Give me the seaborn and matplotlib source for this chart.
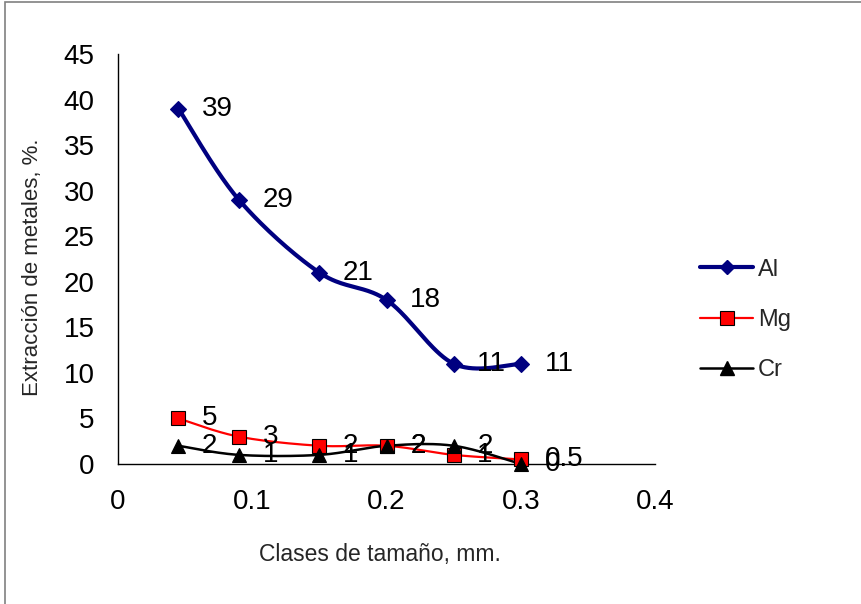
import numpy as np
import pandas as pd
import matplotlib
matplotlib.use("Agg")
import matplotlib.pyplot as plt
from matplotlib.lines import Line2D
from matplotlib.patches import Rectangle
import seaborn as sns

# Size classes (mm) and metal extraction (%)
size_mm = [0.045, 0.09, 0.15, 0.2, 0.25, 0.3]
al = [39, 29, 21, 18, 11, 11]
mg = [5, 3, 2, 2, 1, 0.5]
cr = [2, 1, 1, 2, 2, 0]
al_labels = ["39", "29", "21", "18", "11", "11"]
mg_labels = ["5", "3", "2", "2", "1", "0.5"]
cr_labels = ["2", "1", "1", "2", "2", "0"]

x_ticks = [0, 0.1, 0.2, 0.3, 0.4]
x_tick_labels = ["0", "0.1", "0.2", "0.3", "0.4"]
y_ticks = [0, 5, 10, 15, 20, 25, 30, 35, 40, 45]

sns.set_theme(style="white")
plt.rcParams["font.family"] = ["Liberation Sans", "DejaVu Sans"]

fig = plt.figure(figsize=(8.62, 6.04), dpi=100)
ax = fig.add_axes([0.1369, 0.2318, 0.6232, 0.6788])
ax.set_xlim(0, 0.4)
ax.set_ylim(0, 45)

# outer chart border (grey)
fig.patches.append(Rectangle((5 / 862, -0.05), 1.2, 1.05 - 1.5 / 604,
                             transform=fig.transFigure, fill=False,
                             edgecolor="#808080", linewidth=1.2, zorder=0))


def smooth_curve(xs, ys, n=40):
    """Bezier smoothing through the points in display space (Catmull-Rom style)."""
    pts = ax.transData.transform(np.column_stack([xs, ys]))
    P = np.vstack([pts[0], pts, pts[-1]])
    out = []
    t = np.linspace(0, 1, n)[:, None]
    for i in range(1, len(P) - 2):
        p0, p1, p2, p3 = P[i - 1], P[i], P[i + 1], P[i + 2]
        b1 = p1 + (p2 - p0) / 6.0
        b2 = p2 - (p3 - p1) / 6.0
        seg = ((1 - t) ** 3) * p1 + 3 * ((1 - t) ** 2) * t * b1 + 3 * (1 - t) * t ** 2 * b2 + t ** 3 * p2
        out.append(seg if i == 1 else seg[1:])
    curve = ax.transData.inverted().transform(np.vstack(out))
    return pd.DataFrame({"x": curve[:, 0], "y": curve[:, 1]})


series = [
    ("Al", al, al_labels, "#000080", 3.0, "D", 8, "#000080", "#000080"),
    ("Mg", mg, mg_labels, "#FF0000", 1.6, "s", 9.5, "#FF0000", "#000000"),
    ("Cr", cr, cr_labels, "#000000", 1.8, "^", 9.5, "#000000", "#000000"),
]

for name, vals, labs, color, lw, mk, ms, fc, ec in series:
    curve = smooth_curve(size_mm, vals)
    sns.lineplot(data=curve, x="x", y="y", sort=False, estimator=None,
                 color=color, linewidth=lw, ax=ax, zorder=3)
    ax.plot(size_mm, vals, linestyle="none", marker=mk, markersize=ms,
            markerfacecolor=fc, markeredgecolor=ec,
            markeredgewidth=0.8, zorder=4, clip_on=False)
    for xv, yv, lab in zip(size_mm, vals, labs):
        ax.annotate(lab, (xv, yv), xytext=(17, 0), textcoords="offset points",
                    ha="left", va="center", fontsize=20, color="black", zorder=5)

ax.set_xlabel("")
ax.set_ylabel("")
ax.set_xticks(x_ticks)
ax.set_xticklabels(x_tick_labels)
ax.set_yticks(y_ticks)
ax.tick_params(axis="both", labelsize=20, direction="out", length=5, width=1,
               color="black", labelcolor="black")
ax.tick_params(axis="x", pad=13)
ax.tick_params(axis="y", pad=12)
for s in ["top", "right"]:
    ax.spines[s].set_visible(False)
for s in ["left", "bottom"]:
    ax.spines[s].set_color("black")
    ax.spines[s].set_linewidth(1)
ax.set_facecolor("white")
ax.grid(False)

fig.text(33 / 862, 1 - 267 / 604, "Extracción de metales, %.", rotation=90,
         ha="center", va="center", fontsize=16)
fig.text(380 / 862, 1 - 555 / 604, "Clases de tamaño, mm.", ha="center",
         va="center", fontsize=16.5)

handles = [
    Line2D([], [], color="#000080", lw=3.0, marker="D", markersize=7,
           markerfacecolor="#000080", markeredgecolor="#000080"),
    Line2D([], [], color="#FF0000", lw=1.6, marker="s", markersize=9.5,
           markerfacecolor="#FF0000", markeredgecolor="#000000", markeredgewidth=0.8),
    Line2D([], [], color="#000000", lw=1.8, marker="^", markersize=9.5,
           markerfacecolor="#000000"),
]
fig.legend(handles, ["Al", "Mg", "Cr"], loc="center left",
           bbox_to_anchor=(700 / 862, 1 - 320 / 604), frameon=False,
           fontsize=17, handlelength=2.25, labelspacing=1.2, handletextpad=0.2,
           borderpad=0, borderaxespad=0)

fig.savefig("out.png", dpi=100, facecolor="white")
